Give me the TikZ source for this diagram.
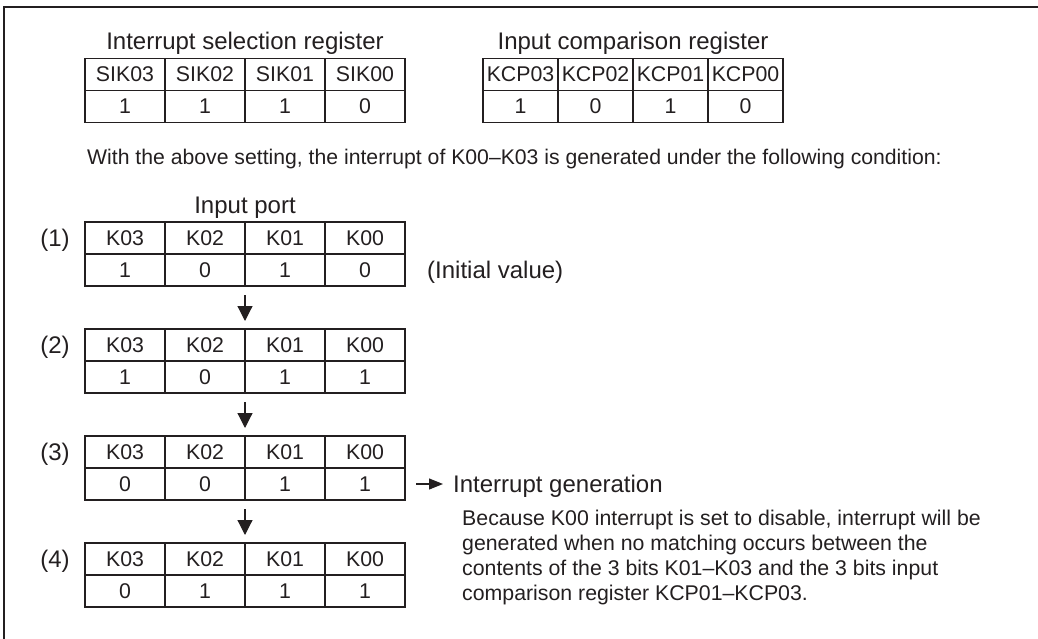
\documentclass[tikz,border=0pt]{standalone}
\usepackage{fontspec}
\setmainfont{Liberation Sans}
\usetikzlibrary{arrows.meta}
\newcommand{\myfs}[1]{\fontsize{#1}{#1}\selectfont}
\definecolor{ink}{HTML}{231F20}
\begin{document}
\begin{tikzpicture}[x=1pt,y=-1pt,
  every node/.style={text=ink},
  frame/.style={draw=ink, line width=1.6pt},
  cell/.style={draw=ink, line width=1.1pt, minimum width=80pt, minimum height=32pt, inner sep=0pt, outer sep=0pt, font=\myfs{21.3}},
  kcell/.style={cell, minimum width=75pt},
  ttl/.style={inner sep=0pt, font=\myfs{24}},
  body/.style={inner sep=0pt, font=\myfs{21.2}},
  ptxt/.style={inner sep=0pt, font=\myfs{21.3}},
  darr/.style={draw=ink, line width=1.2pt, -{Triangle[length=15pt,width=15pt]}},
  sarr/.style={draw=ink, line width=1.2pt, -{Triangle[length=14pt,width=11pt]}}]
\useasboundingbox (0,0) rectangle (1038,639);
\draw[frame] (4,639) -- (4,7) -- (1038,7);

% Interrupt selection register
\node[ttl, anchor=base] (isr) at (245,50) {Interrupt selection register};
\foreach \n/\v [count=\i from 0] in {03/1,02/1,01/1,00/0} {
  \node[cell] (s\n) at (125+80*\i,74.5) {SIK\n};
  \node[cell] (sv\n) at (125+80*\i,106.5) {\v};
}

% Input comparison register
\node[ttl, anchor=base] (icr) at (633,50) {Input comparison register};
\foreach \n/\v [count=\i from 0] in {03/1,02/0,01/1,00/0} {
  \node[kcell] (k\n) at (520.5+75*\i,74.5) {KCP\n};
  \node[kcell] (kv\n) at (520.5+75*\i,106.5) {\v};
}

\node[body, anchor=base west] (cond) at (87,165) {With the above setting, the interrupt of K00--K03 is generated under the following condition:};

\node[ttl, anchor=base] (ip) at (245,213) {Input port};

% input port tables
\foreach \t/\T/\a/\b/\c/\d in {1/222/1/0/1/0, 2/329/1/0/1/1, 3/436/0/0/1/1, 4/543/0/1/1/1} {
  \node[ttl, anchor=base] (n\t) at (55,\T+24.6) {(\t)};
  \node[cell] (t\t c3) at (125,\T+16) {K03};
  \node[cell] (t\t c2) at (205,\T+16) {K02};
  \node[cell] (t\t c1) at (285,\T+16) {K01};
  \node[cell] (t\t c0) at (365,\T+16) {K00};
  \node[cell] (t\t v3) at (125,\T+48) {\a};
  \node[cell] (t\t v2) at (205,\T+48) {\b};
  \node[cell] (t\t v1) at (285,\T+48) {\c};
  \node[cell] (t\t v0) at (365,\T+48) {\d};
}

\draw[darr] ([yshift=-9pt]t1v1.south west) -- ([yshift=8pt]t2c1.north west);
\draw[darr] ([yshift=-9pt]t2v1.south west) -- ([yshift=8pt]t3c1.north west);
\draw[darr] ([yshift=-9pt]t3v1.south west) -- ([yshift=8pt]t4c1.north west);

\node[ttl, anchor=base west] (init) at (427,278.6) {(Initial value)};

\node[ttl, anchor=base west] (ig) at (453,492.6) {Interrupt generation};
\coordinate (igl) at ([xshift=-10pt]ig.west |- t3v0.east);
\draw[sarr] ([xshift=11pt]t3v0.east) -- (igl);

\node[ptxt, anchor=base west] (p1) at (462,525.6) {Because K00 interrupt is set to disable, interrupt will be};
\node[ptxt, anchor=base west] (p2) at (462,550.6) {generated when no matching occurs between the};
\node[ptxt, anchor=base west] (p3) at (462,575.6) {contents of the 3 bits K01--K03 and the 3 bits input};
\node[ptxt, anchor=base west] (p4) at (462,600.6) {comparison register KCP01--KCP03.};
\end{tikzpicture}
\end{document}
